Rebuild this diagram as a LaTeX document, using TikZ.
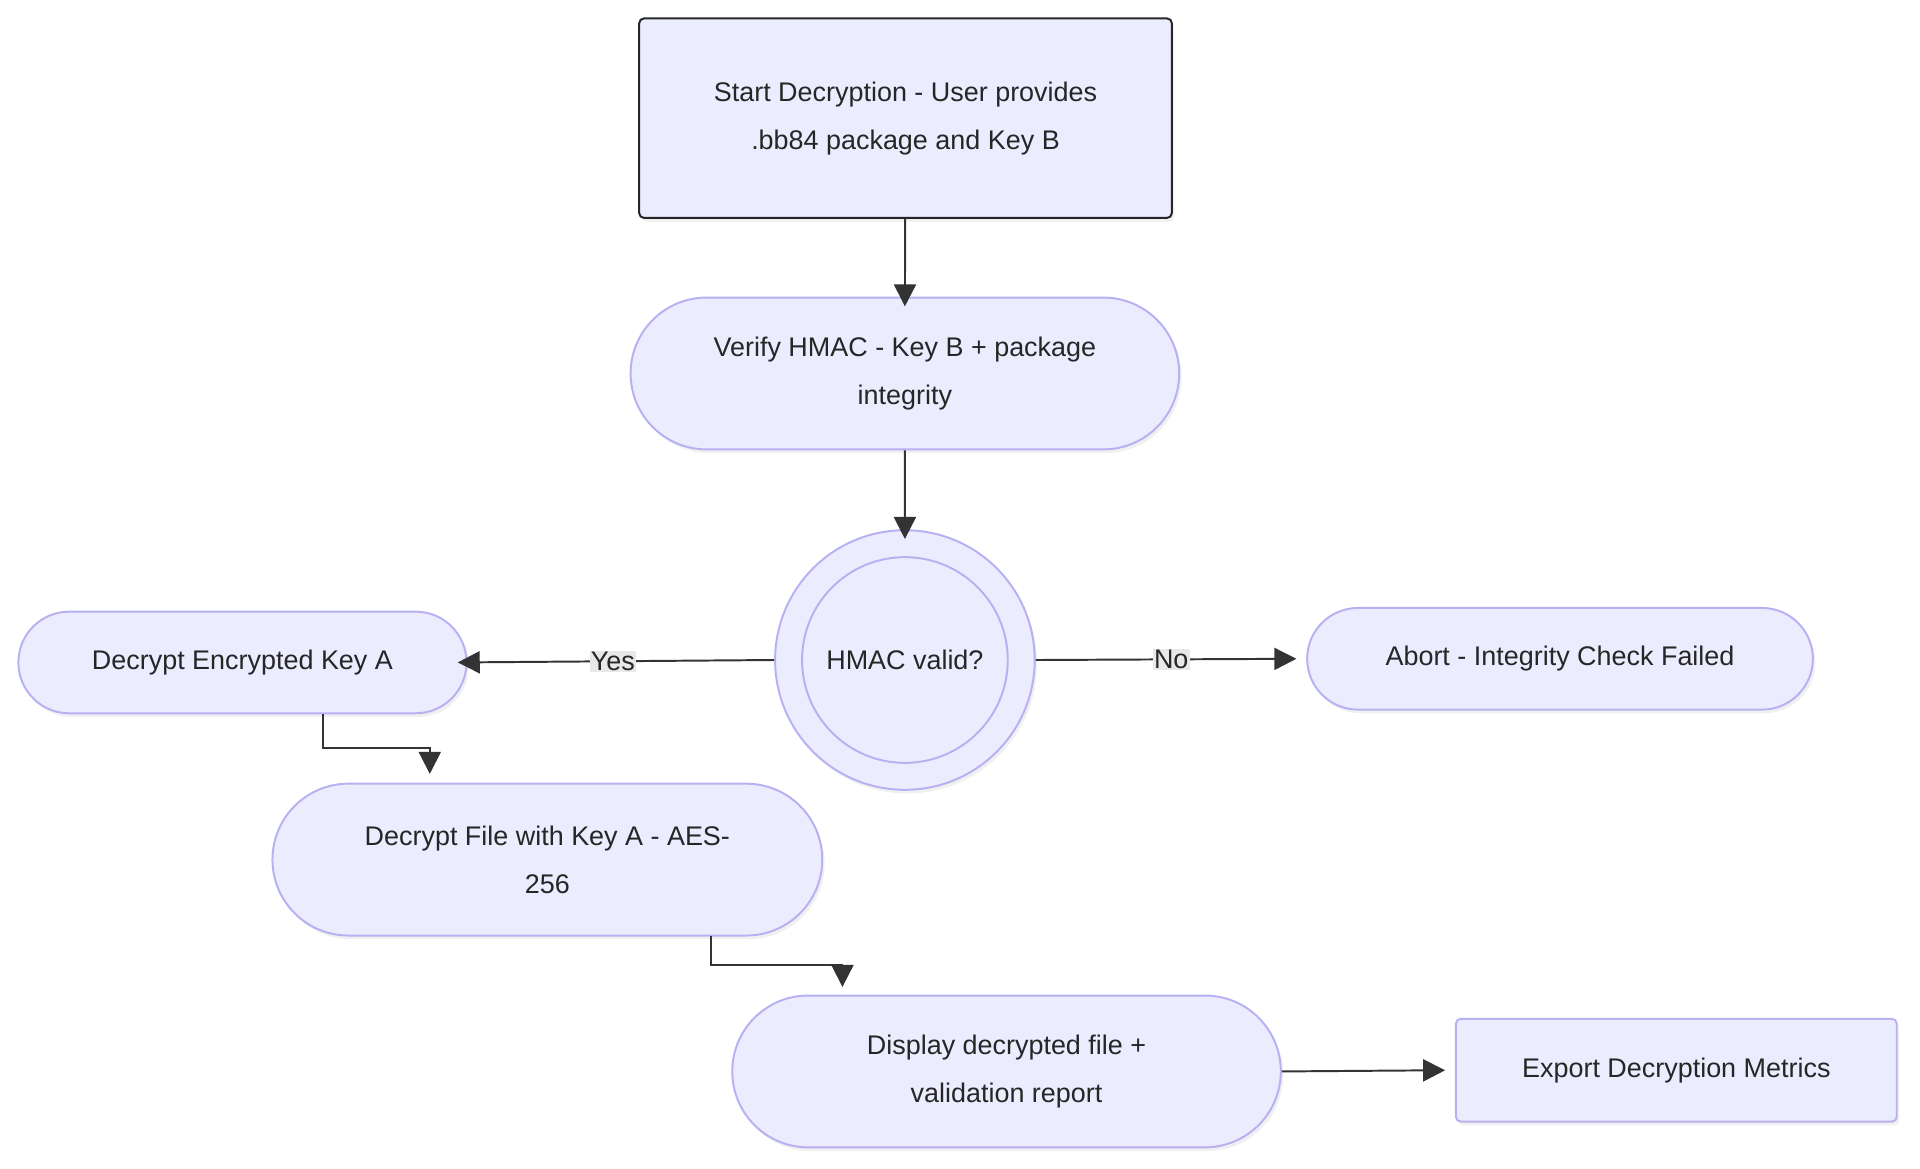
\documentclass[tikz,border=0pt]{standalone}
\usepackage{fontspec}
\setmainfont{Liberation Sans}
\usetikzlibrary{arrows.meta,shapes.misc,shadows}
\definecolor{nfill}{HTML}{ECECFF}
\definecolor{nline}{HTML}{B9B0F2}
\definecolor{edge}{HTML}{333333}
\definecolor{lbl}{HTML}{E8E8E8}
\begin{document}
\begin{tikzpicture}[x=1pt,y=-1pt,
  base/.style={fill=nfill,draw=nline,line width=1.6pt,align=center,font=\fontsize{22}{39}\selectfont,text=black!85,inner sep=0pt,
    drop shadow={shadow xshift=2pt,shadow yshift=-3pt,opacity=0.12}},
  stad/.style={base,rounded rectangle,minimum height=#1},
  box/.style={base,rectangle,rounded corners=4pt},
  ar/.style={draw=edge,line width=1.6pt,-{Triangle[length=18pt,width=18pt]}},
  lab/.style={fill=lbl,font=\fontsize{22}{26}\selectfont,text=black!85,inner sep=1pt}]
\useasboundingbox (0,0) rectangle (1568,954);
\node[box,draw=black!85,minimum width=435pt,minimum height=163pt] (start) at (739.5,96.5) {Start Decryption - User provides\\.bb84 package and Key B};
\node[stad=124pt,minimum width=448pt] (ver) at (739,305) {Verify HMAC - Key B + package\\integrity};
\node[base,circle,minimum size=212pt] (hm) at (739,539) {};
\node[circle,draw=nline,line width=1.6pt,minimum size=168pt,align=center,font=\fontsize{22}{26}\selectfont,text=black!85,inner sep=0pt] (hmi) at (739,539) {HMAC valid?};
\node[stad=83pt,minimum width=366pt] (ka) at (198,541) {Decrypt Encrypted Key A};
\node[stad=83pt,minimum width=413pt] (ab) at (1274,538) {Abort - Integrity Check Failed};
\node[stad=124pt,minimum width=449pt] (df) at (447,702) {Decrypt File with Key A - AES-\\256};
\node[stad=124pt,minimum width=448pt] (dis) at (822,875) {Display decrypted file +\\validation report};
\node[box,minimum width=360pt,minimum height=84pt] (ex) at (1369,874) {Export Decryption Metrics};
\draw[ar] (start) -- ([yshift=-8pt]ver.north);
\draw[ar] (ver) -- ([yshift=-8pt]hm.north);
\draw[ar] (hm.west) -- ([xshift=-8pt]ka.east) node[lab,pos=0.51]{Yes};
\draw[ar] (hm.east) -- ([xshift=-8pt]ab.west) node[lab,pos=0.52]{No};
\coordinate (k1) at (264,583);
\draw[ar] (k1) -- (264,608) to[rounded corners=0pt] (264,611) -- (351,611) -- (351,632);
\coordinate (f1) at (581,764);
\draw[ar] (f1) -- (581,788) -- (688,788) -- (688,806);
\draw[ar] (dis.east) -- ([xshift=-8pt]ex.west);
\end{tikzpicture}
\end{document}
